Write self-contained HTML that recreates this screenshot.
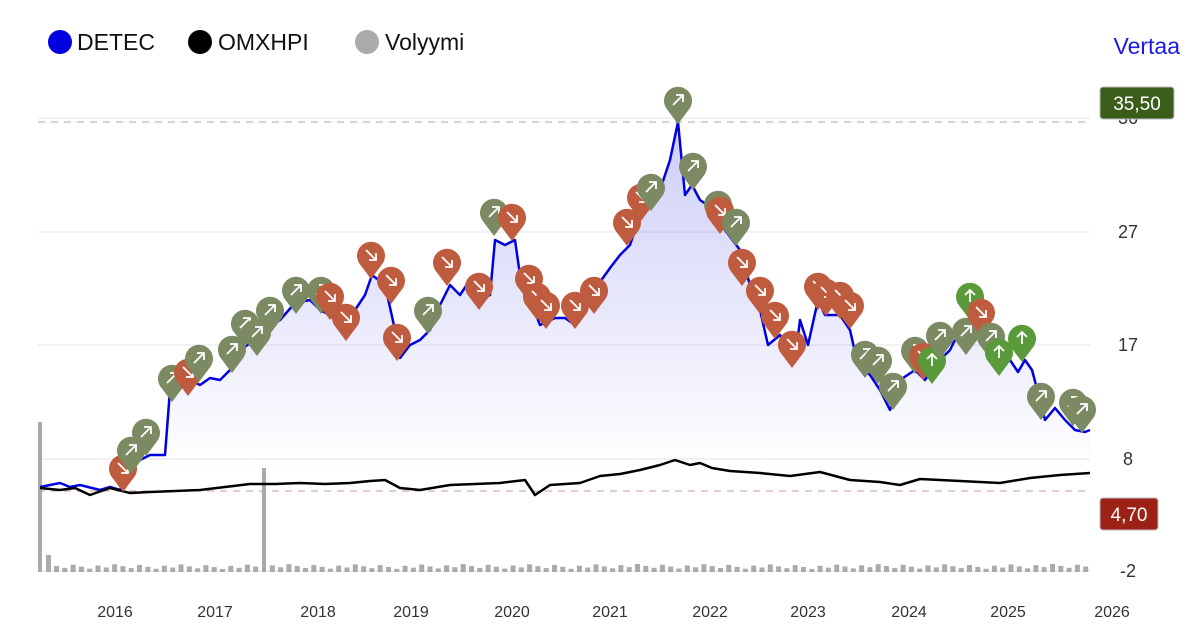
<!DOCTYPE html>
<html><head><meta charset="utf-8"><style>
body{margin:0;background:#fff;width:1194px;height:630px;overflow:hidden;font-family:"Liberation Sans",sans-serif}
</style></head><body>
<svg id="s" width="1194" height="630" xmlns="http://www.w3.org/2000/svg" font-family="Liberation Sans, sans-serif">
<defs><linearGradient id="g" gradientUnits="userSpaceOnUse" x1="0" y1="120" x2="0" y2="470"><stop offset="0" stop-color="#5a5ae6" stop-opacity="0.3"/><stop offset="1" stop-color="#5a5ae6" stop-opacity="0"/></linearGradient></defs>
<circle cx="60" cy="42" r="12" fill="#0000e0"/><text x="77" y="50" font-size="23" fill="#111">DETEC</text>
<circle cx="200" cy="42" r="12" fill="#000"/><text x="218" y="50" font-size="23" fill="#111">OMXHPI</text>
<circle cx="367" cy="42" r="12" fill="#aaa"/><text x="385" y="50" font-size="23" fill="#111">Volyymi</text>
<text x="1180" y="54" font-size="23" fill="#1a1ae0" text-anchor="end">Vertaa</text>
<g stroke="#eee" stroke-width="1.5"><line x1="38" y1="118" x2="1090" y2="118"/><line x1="38" y1="232" x2="1090" y2="232"/><line x1="38" y1="345" x2="1090" y2="345"/><line x1="38" y1="459" x2="1090" y2="459"/><line x1="38" y1="571" x2="1090" y2="571"/></g>
<g font-size="18" fill="#333" text-anchor="middle"><text x="1128" y="124">36</text><text x="1128" y="238">27</text><text x="1128" y="351">17</text><text x="1128" y="465">8</text><text x="1128" y="577">-2</text></g>
<line x1="38" y1="122" x2="1090" y2="122" stroke="#aaa" stroke-dasharray="7,6"/>
<line x1="38" y1="491" x2="1090" y2="491" stroke="#c99" stroke-dasharray="7,6"/>
<g id="vol" fill="#aaa"></g>
<path id="fill" fill="url(#g)"/>
<path id="det" fill="none" stroke="#0000e0" stroke-width="2.5" stroke-linejoin="round"/>
<path id="omx" fill="none" stroke="#000" stroke-width="2.5" stroke-linejoin="round"/>
<g id="pins"></g>
<rect x="1100" y="87" width="74" height="32" rx="3" fill="#3a5e1a" stroke="#bbb"/><text x="1137" y="110" font-size="19" fill="#fff" text-anchor="middle">35,50</text>
<rect x="1100" y="498" width="58" height="32" rx="3" fill="#9b2214" stroke="#bbb"/><text x="1129" y="521" font-size="19" fill="#fff" text-anchor="middle">4,70</text>
<g font-size="16" fill="#333" text-anchor="middle"><text x="115" y="617">2016</text><text x="215" y="617">2017</text><text x="318" y="617">2018</text><text x="411" y="617">2019</text><text x="512" y="617">2020</text><text x="610" y="617">2021</text><text x="710" y="617">2022</text><text x="808" y="617">2023</text><text x="909" y="617">2024</text><text x="1008" y="617">2025</text><text x="1112" y="617">2026</text></g>
</svg>
<script>
var d=[40,487,60,483,70,487,80,485,100,490,110,487,120,490,130,465,150,455,165,455,170,390,172,380,180,375,190,380,200,385,210,378,220,380,230,370,240,350,255,340,265,330,280,320,295,303,310,300,320,310,330,315,345,330,355,310,365,295,372,275,385,285,395,330,400,358,410,345,420,340,430,330,440,305,450,285,460,295,470,280,480,300,490,295,495,240,505,245,515,240,520,275,530,300,540,325,555,318,565,318,575,325,590,295,600,282,610,268,620,255,630,245,640,215,650,205,660,190,670,160,678,122,685,195,692,185,700,200,715,210,725,230,740,250,750,285,760,310,768,345,780,335,795,360,800,320,808,345,818,300,825,315,840,315,850,330,858,365,870,375,880,390,890,410,900,380,915,370,925,380,935,365,950,350,960,330,970,320,980,325,990,345,1000,365,1010,360,1018,372,1025,360,1032,370,1040,400,1045,420,1055,408,1065,420,1075,430,1085,432,1090,430];
var o=[40,488,60,490,75,488,90,495,110,488,130,493,150,492,175,491,200,490,225,487,250,484,275,484,300,483,325,484,350,483,370,481,385,480,400,488,420,490,450,485,475,484,500,483,525,480,535,495,550,485,580,483,600,476,620,474,640,470,660,465,675,460,690,465,700,463,712,468,730,471,760,473,790,476,820,472,850,480,880,482,900,485,920,479,960,481,1000,483,1030,478,1060,475,1090,473];
function p(a){var s="M"+a[0]+","+a[1];for(var i=2;i<a.length;i+=2)s+="L"+a[i]+","+a[i+1];return s}
document.getElementById("det").setAttribute("d",p(d));
document.getElementById("omx").setAttribute("d",p(o));
document.getElementById("fill").setAttribute("d",p(d)+"L1090,491L40,491Z");
var v="";v+='<rect x="38" y="422" width="4" height="150"/><rect x="46" y="555" width="5" height="17"/><rect x="262" y="468" width="4" height="104"/>';
for(var x=54;x<1090;x+=8.3){if(Math.abs(x-264)<4)continue;var h=3+((x*7)%5);v+='<rect x="'+x.toFixed(1)+'" y="'+(572-h)+'" width="5" height="'+h+'"/>';}
document.getElementById("vol").innerHTML=v;
var R="#bf5b3e",G="#7b8a62",N="#5a9a3a";
var P=[[123,468,R,"d"],[131,450,G,"u"],[146,432,G,"u"],[172,378,G,"u"],[188,372,R,"d"],[199,358,G,"u"],[232,349,G,"u"],[245,323,G,"u"],[257,332,G,"u"],[270,310,G,"u"],[296,290,G,"u"],[321,290,G,"u"],[330,296,R,"d"],[346,317,R,"d"],[371,255,R,"d"],[391,280,R,"d"],[397,337,R,"d"],[428,310,G,"u"],[447,262,R,"d"],[479,286,R,"d"],[494,212,G,"u"],[512,217,R,"d"],[529,278,R,"d"],[537,296,R,"d"],[546,305,R,"d"],[575,305,R,"d"],[594,290,R,"d"],[627,222,R,"d"],[641,197,R,"d"],[651,187,G,"u"],[678,100,G,"u"],[693,166,G,"u"],[718,204,G,"u"],[720,210,R,"d"],[736,222,G,"u"],[742,262,R,"d"],[760,290,R,"d"],[775,315,R,"d"],[792,344,R,"d"],[818,286,R,"d"],[826,292,R,"d"],[840,295,R,"d"],[850,305,R,"d"],[865,354,G,"u"],[878,360,G,"u"],[893,386,G,"u"],[915,350,G,"u"],[923,356,R,"d"],[932,360,N,"t"],[940,335,G,"u"],[966,331,G,"u"],[970,296,N,"t"],[981,312,R,"d"],[991,336,G,"u"],[999,352,N,"t"],[1022,338,N,"t"],[1041,396,G,"u"],[1073,402,G,"u"],[1082,409,G,"u"]];
var s="";P.forEach(function(q){var x=q[0],y=q[1];
s+='<path d="M'+x+','+(y+24)+' L'+(x-12)+','+(y+8)+' A14,14 0 1 1 '+(x+12)+','+(y+8)+' Z" fill="'+q[2]+'"/>';
var a=q[3]=="u"?'M'+(x-5)+','+(y+5)+'L'+(x+5)+','+(y-5)+'M'+(x-2)+','+(y-5)+'L'+(x+5)+','+(y-5)+'L'+(x+5)+','+(y+2):q[3]=="d"?'M'+(x-5)+','+(y-5)+'L'+(x+5)+','+(y+5)+'M'+(x-2)+','+(y+5)+'L'+(x+5)+','+(y+5)+'L'+(x+5)+','+(y-2):'M'+x+','+(y+6)+'L'+x+','+(y-6)+'M'+(x-5)+','+(y-1)+'L'+x+','+(y-6)+'L'+(x+5)+','+(y-1);
s+='<path d="'+a+'" stroke="#fff" stroke-width="1.8" fill="none"/>';});
document.getElementById("pins").innerHTML=s;
</script>
</body></html>
